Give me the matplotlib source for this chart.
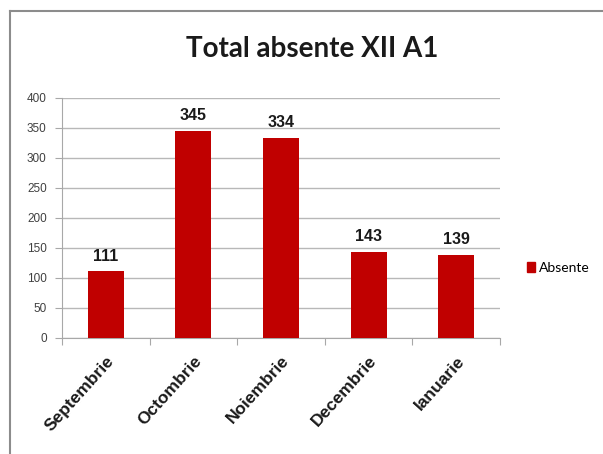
import matplotlib
matplotlib.use("Agg")
import matplotlib.pyplot as plt
from matplotlib.patches import Patch

categories = ["Septembrie", "Octombrie", "Noiembrie", "Decembrie", "Ianuarie"]
values = [111, 345, 334, 143, 139]
yticks = [0, 50, 100, 150, 200, 250, 300, 350, 400]
series_name = "Absente"
title = "Total absente XII A1"

W, H = 603, 454
fig = plt.figure(figsize=(W/100, H/100), dpi=100)
fig.patch.set_facecolor("white")

# outer chart border (top and left visible)
fig.add_artist(plt.Line2D([10/W, 10/W], [0, 1-11/H], color="#8c8c8c", lw=1.5))
fig.add_artist(plt.Line2D([10/W, 1], [1-11/H, 1-11/H], color="#8c8c8c", lw=1.5))

ax = fig.add_axes([62/W, 1-338/H, 438/W, 240/H])
x = list(range(len(categories)))
ax.bar(x, values, width=0.41, color="#c00000", zorder=3)
ax.set_xlim(-0.5, len(categories)-0.5)
ax.set_ylim(0, 400)
ax.set_yticks(yticks)
ax.set_yticklabels([str(v) for v in yticks], fontsize=8.5, color="#404040", family="Liberation Sans")
ax.yaxis.grid(True, color="#b8b8b8", lw=1, zorder=0)
ax.set_axisbelow(True)
for s in ["top", "right"]:
    ax.spines[s].set_visible(False)
ax.spines["left"].set_color("#a8a8a8")
ax.spines["bottom"].set_color("#a8a8a8")
ax.tick_params(axis="y", length=5, color="#a8a8a8", pad=6)
ax.set_xticks([i - 0.5 for i in range(len(categories)+1)], minor=False)
ax.set_xticklabels([])
ax.tick_params(axis="x", length=5, color="#a8a8a8")
ax.set_xticks(x, minor=True)
ax.set_xticklabels(categories, minor=True, rotation=48, ha="right", rotation_mode="anchor",
                   fontsize=12.5, fontweight="bold", color="#1a1a1a", family="Liberation Sans")
ax.tick_params(axis="x", which="minor", length=0, pad=11)

for xi, v in zip(x, values):
    ax.text(xi, v + 13, str(v), ha="center", va="bottom", fontsize=11.5, fontweight="bold",
            color="#1a1a1a", family="Liberation Sans")

fig.text(312/W, 1-49/H, title, ha="center", va="center", fontsize=20, fontweight="bold",
         family="Lato", color="#1a1a1a")

fig.legend(handles=[Patch(color="#c00000", label=series_name)], loc="center left",
           bbox_to_anchor=(514/W, 1-268/H), frameon=False, handlelength=0.6,
           handleheight=0.7, handletextpad=0.3, prop={"family": "Lato", "size": 10})

fig.savefig("out.png", dpi=100)
